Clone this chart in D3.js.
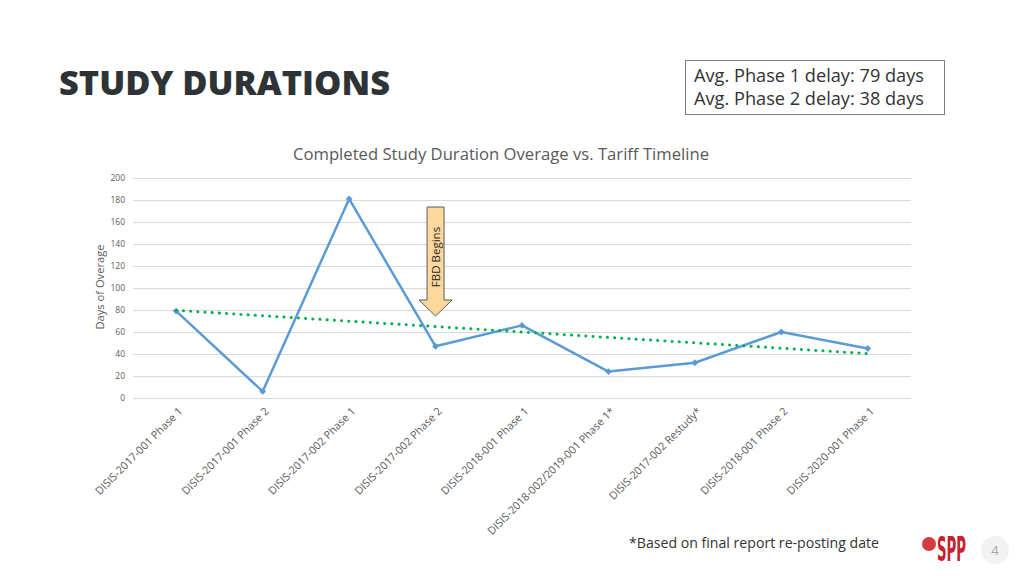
<!DOCTYPE html>
<html><head><meta charset="utf-8">
<script src="https://cdn.jsdelivr.net/npm/d3@7"></script>
<style>body{margin:0;background:#fff;}svg{display:block;}</style>
</head><body>
<svg id="c" width="1024" height="576"></svg>
<script>
const categories = ["DISIS-2017-001 Phase 1","DISIS-2017-001 Phase 2","DISIS-2017-002 Phase 1","DISIS-2017-002 Phase 2","DISIS-2018-001 Phase 1","DISIS-2018-002/2019-001 Phase 1*","DISIS-2017-002 Restudy*","DISIS-2018-001 Phase 2","DISIS-2020-001 Phase 1"];
const overage = [79, 6, 181, 47, 66, 24, 32, 60, 45];
const yTicks = [0, 20, 40, 60, 80, 100, 120, 140, 160, 180, 200];
const boxLines = ["Avg. Phase 1 delay: 79 days", "Avg. Phase 2 delay: 38 days"];
const fbdCategory = "DISIS-2017-002 Phase 2";

const svg = d3.select("#c");
const font = "'Open Sans', 'Noto Sans', sans-serif";
const pL = 133, pR = 911, pT = 178, pB = 398;

const x = d3.scaleBand().domain(categories).range([pL, pR]);
const y = d3.scaleLinear().domain([0, 200]).range([pB, pT]);
const cx = d => x(d) + x.bandwidth() / 2;

// Title
svg.append("text").attr("x", 59).attr("y", 95).text("STUDY DURATIONS")
  .attr("font-family", font).attr("font-weight", 800).attr("font-size", 34).attr("fill", "#2e3436")
  .attr("textLength", 331).attr("lengthAdjust", "spacingAndGlyphs");

// Box
svg.append("rect").attr("x", 685.5).attr("y", 60.5).attr("width", 259).attr("height", 54)
  .attr("fill", "#fff").attr("stroke", "#7f7f7f").attr("stroke-width", 1);
boxLines.forEach((t, i) => svg.append("text").attr("x", 694).attr("y", 82 + i * 23).text(t)
  .attr("font-family", font).attr("font-size", 17.5).attr("fill", "#333")
  .attr("textLength", 230).attr("lengthAdjust", "spacingAndGlyphs"));

// Chart title
svg.append("text").attr("x", 501).attr("y", 160).attr("text-anchor", "middle")
  .text("Completed Study Duration Overage vs. Tariff Timeline")
  .attr("font-family", font).attr("font-size", 15.5).attr("fill", "#595959")
  .attr("textLength", 416).attr("lengthAdjust", "spacingAndGlyphs");

// Grid
const yAxis = d3.axisLeft(y).tickValues(yTicks).tickSize(-(pR - pL)).tickPadding(8);
const ga = svg.append("g").attr("transform", `translate(${pL},0)`).call(yAxis);
ga.select(".domain").remove();
ga.selectAll(".tick line").attr("stroke", "#d9d9d9");
ga.selectAll(".tick text").attr("font-family", font).attr("font-size", 8.5).attr("fill", "#595959");

// Y title
svg.append("text").attr("transform", `translate(104,${(pT + pB) / 2 - 1}) rotate(-90)`)
  .attr("text-anchor", "middle").text("Days  of Overage")
  .attr("font-family", font).attr("font-size", 10.5).attr("fill", "#595959")
  .attr("textLength", 85).attr("lengthAdjust", "spacingAndGlyphs");

// X labels
const xa = svg.append("g").attr("transform", `translate(0,${pB})`).call(d3.axisBottom(x).tickSize(0).tickPadding(0));
xa.select(".domain").remove();
xa.selectAll(".tick text").attr("text-anchor", "end")
  .attr("transform", "translate(7,14) rotate(-45)")
  .attr("dy", "0").attr("font-family", font).attr("font-size", 10.8).attr("fill", "#595959");

// Trend line (least squares on the plotted values)
const n = overage.length, idx = d3.range(1, n + 1);
const mx = d3.mean(idx), my = d3.mean(overage);
const slope = d3.sum(idx, (i, k) => (i - mx) * (overage[k] - my)) / d3.sum(idx, i => (i - mx) ** 2);
const trend = categories.map((c, k) => ({c, v: my + slope * (idx[k] - mx)}));

// Series line
const pts = categories.map((c, k) => ({c, v: overage[k]}));
svg.append("path").datum(pts)
  .attr("d", d3.line().x(d => cx(d.c)).y(d => y(d.v)))
  .attr("fill", "none").attr("stroke", "#5b9bd5").attr("stroke-width", 2.5).attr("stroke-linejoin", "round");
svg.selectAll("path.mk").data(pts).enter().append("path")
  .attr("class", "mk").attr("d", d3.symbol(d3.symbolDiamond2, 30))
  .attr("transform", d => `translate(${cx(d.c)},${y(d.v)})`).attr("fill", "#5b9bd5");

svg.append("path").datum([trend[0], trend[n - 1]])
  .attr("d", d3.line().x(d => cx(d.c)).y(d => y(d.v)))
  .attr("fill", "none").attr("stroke", "#00b050").attr("stroke-width", 3)
  .attr("stroke-dasharray", "0.1,7.1").attr("stroke-linecap", "round");

// FBD arrow
const ax = cx(fbdCategory);
const arrowTop = 207, shaftBot = 300, tip = 316, sw = 8.5, hw = 16.5;
svg.append("path").attr("d",
  `M${ax - sw},${arrowTop} L${ax + sw},${arrowTop} L${ax + sw},${shaftBot} L${ax + hw},${shaftBot} L${ax},${tip} L${ax - hw},${shaftBot} L${ax - sw},${shaftBot} Z`)
  .attr("fill", "#fbd89b").attr("stroke", "#595959").attr("stroke-width", 1);
svg.append("text").attr("transform", `translate(${ax + 4},257) rotate(-90)`).attr("text-anchor", "middle")
  .text("FBD Begins").attr("font-family", font).attr("font-size", 11.5).attr("fill", "#262626");

// Footer
svg.append("text").attr("x", 629).attr("y", 548).text("*Based on final report re-posting date")
  .attr("font-family", font).attr("font-size", 14.5).attr("fill", "#333")
  .attr("textLength", 250).attr("lengthAdjust", "spacingAndGlyphs");
svg.append("circle").attr("cx", 929).attr("cy", 544).attr("r", 7).attr("fill", "#d73b3e");
svg.append("text").attr("x", 937).attr("y", 561).text("SPP")
  .attr("font-family", "'Liberation Sans Narrow', 'DejaVu Sans Condensed', sans-serif").attr("font-weight", 700)
  .attr("font-size", 33).attr("fill", "#c8202f").attr("textLength", 29).attr("lengthAdjust", "spacingAndGlyphs");
svg.append("circle").attr("cx", 995).attr("cy", 550).attr("r", 14).attr("fill", "#f2f2f2");
svg.append("text").attr("x", 995).attr("y", 555).attr("text-anchor", "middle").text("4")
  .attr("font-family", font).attr("font-size", 13).attr("fill", "#a6a6a6");
</script>
</body></html>
